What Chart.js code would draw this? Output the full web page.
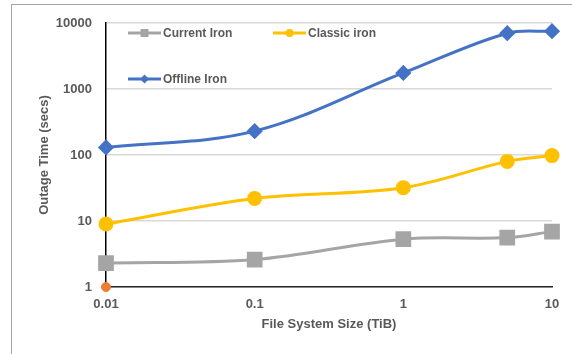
<!DOCTYPE html>
<html><head><meta charset="utf-8">
<script src="https://cdn.jsdelivr.net/npm/chart.js@4.4.1/dist/chart.umd.min.js"></script>
<style>
html,body{margin:0;padding:0;background:#fff;}
#wrap{position:relative;width:572px;height:354px;overflow:hidden;}
#frame{position:absolute;left:11px;top:4px;width:700px;height:500px;border:1px solid #a6a6a6;box-sizing:border-box;}
canvas{position:absolute;left:0;top:0;}
</style></head><body>
<div id="wrap"><div id="frame"></div><canvas id="c" width="572" height="354"></canvas></div>
<script>
// File system size (TiB) and outage time (secs) per strategy
const sizes = [0.01, 0.1, 1, 5, 10];
const currentIron = [2.3, 2.6, 5.3, 5.6, 6.9];
const classicIron = [9, 22, 32, 80, 98];
const offlineIron = [130, 230, 1750, 7000, 7500];
const originSize = [0.01];
const originTime = [1];
const xTickValues = [0.01, 0.1, 1, 10];
const yTickValues = [1, 10, 100, 1000, 10000];

const TEXT = '#595959';
const FONT = '"Liberation Sans", Arial, sans-serif';

const toPoints = (xs, ys) => xs.map((x, i) => ({x, y: ys[i]}));

// Legend laid out in the upper-left of the plot
const legendLayout = [
  {ds: 0, dx: 22, dy: 10},
  {ds: 1, dx: 167, dy: 10},
  {ds: 2, dx: 22, dy: 56}
];

function marker(ctx, style, x, y, r, color) {
  ctx.save();
  ctx.fillStyle = color;
  ctx.beginPath();
  if (style === 'rect') {
    ctx.rect(x - r, y - r, 2 * r, 2 * r);
  } else if (style === 'rectRot') {
    ctx.moveTo(x, y - r); ctx.lineTo(x + r, y); ctx.lineTo(x, y + r); ctx.lineTo(x - r, y);
    ctx.closePath();
  } else {
    ctx.arc(x, y, r, 0, Math.PI * 2);
  }
  ctx.fill();
  ctx.restore();
}

const legendPlugin = {
  id: 'cornerLegend',
  afterDraw(chart) {
    const {ctx, chartArea} = chart;
    legendLayout.forEach(item => {
      const ds = chart.data.datasets[item.ds];
      const x = chartArea.left + item.dx;
      const y = chartArea.top + item.dy;
      ctx.save();
      ctx.strokeStyle = ds.borderColor;
      ctx.lineWidth = 3;
      ctx.beginPath();
      ctx.moveTo(x, y); ctx.lineTo(x + 33, y);
      ctx.stroke();
      const r = ds.pointStyle === 'rect' ? 4 : (ds.pointStyle === 'rectRot' ? 4.5 : 4);
      marker(ctx, ds.pointStyle, x + 16.5, y, r, ds.pointBackgroundColor);
      ctx.fillStyle = TEXT;
      ctx.font = 'bold 12px ' + FONT;
      ctx.textBaseline = 'middle';
      ctx.textAlign = 'left';
      ctx.fillText(ds.label, x + 35, y + 0.5);
      ctx.restore();
    });
  }
};

const lineSeries = (label, ys, color, style, radius) => ({
  label,
  data: toPoints(sizes, ys),
  borderColor: color,
  backgroundColor: color,
  pointBackgroundColor: color,
  pointBorderColor: color,
  pointStyle: style,
  pointRadius: radius,
  pointHoverRadius: radius,
  borderWidth: 3,
  tension: 0.35,
  clip: false
});

new Chart(document.getElementById('c'), {
  type: 'line',
  data: {
    datasets: [
      lineSeries('Current Iron', currentIron, '#A5A5A5', 'rect', 9),
      lineSeries('Classic iron', classicIron, '#FFC000', 'circle', 6),
      lineSeries('Offline Iron', offlineIron, '#4472C4', 'rectRot', 6),
      {
        label: '',
        data: toPoints(originSize, originTime),
        showLine: false,
        pointStyle: 'circle',
        pointRadius: 4.5,
        pointBackgroundColor: '#ED7D31',
        pointBorderColor: '#ED7D31',
        borderColor: '#ED7D31',
        clip: false
      }
    ]
  },
  options: {
    responsive: false,
    animation: false,
    events: [],
    layout: {padding: {left: 33, right: 20, top: 23, bottom: 18}},
    plugins: {legend: {display: false}, tooltip: {enabled: false}},
    scales: {
      x: {
        type: 'logarithmic',
        min: 0.01, max: 10,
        afterBuildTicks: s => { s.ticks = xTickValues.map(v => ({value: v})); },
        afterFit: s => { s.height = 49; },
        grid: {display: false, drawTicks: false},
        border: {display: true, color: '#262626', width: 1.5},
        ticks: {
          padding: 10, autoSkip: false, maxRotation: 0,
          color: TEXT, font: {family: FONT, size: 13, weight: 'bold'},
          callback: v => String(v)
        },
        title: {
          display: true, text: 'File System Size (TiB)', color: TEXT,
          font: {family: FONT, size: 13, weight: 'bold'}, padding: {top: 0, bottom: 4}
        }
      },
      y: {
        type: 'logarithmic',
        min: 1, max: 10000,
        afterBuildTicks: s => { s.ticks = yTickValues.map(v => ({value: v})); },
        afterFit: s => { s.width = 73; },
        grid: {color: '#d9d9d9', lineWidth: 1.5, drawTicks: false},
        border: {display: true, color: '#000', width: 1.5},
        ticks: {
          padding: 14, autoSkip: false,
          color: TEXT, font: {family: FONT, size: 13, weight: 'bold'},
          callback: v => String(v)
        },
        title: {
          display: true, text: 'Outage Time (secs)', color: TEXT,
          font: {family: FONT, size: 13, weight: 'bold'}, padding: {top: 4, bottom: 0}
        }
      }
    }
  },
  plugins: [legendPlugin]
});
</script>
</body></html>
